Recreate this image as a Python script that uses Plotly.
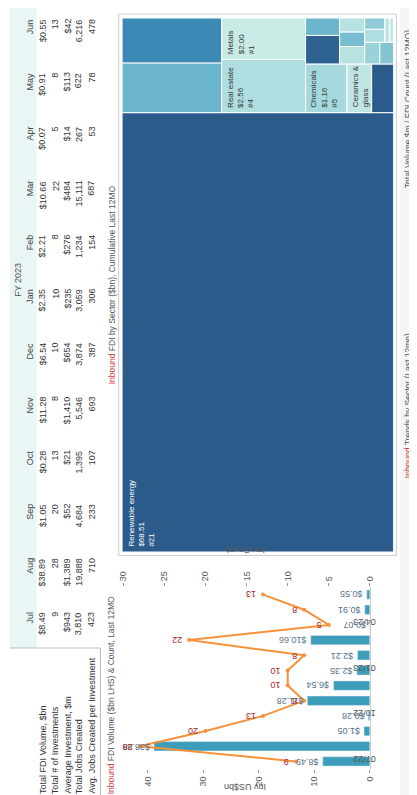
import plotly.graph_objects as go
from plotly.colors import sample_colorscale

W, H = 417, 795

# ---- table / monthly data ----
months = ["Jul", "Aug", "Sep", "Oct", "Nov", "Dec", "Jan", "Feb", "Mar", "Apr", "May", "Jun"]
periods = ["07/22", "08/22", "09/22", "10/22", "11/22", "12/22",
           "01/23", "02/23", "03/23", "04/23", "05/23", "06/23"]
period_ticks = ["07/22", "10/22", "01/23", "04/23"]
fdi_volume_bn = [8.49, 38.89, 1.05, 0.28, 11.28, 6.54, 2.35, 2.21, 10.66, 0.07, 0.91, 0.55]
fdi_count = [9, 28, 20, 13, 8, 10, 10, 8, 22, 5, 8, 13]
avg_investment_m = [943, 1389, 52, 21, 1410, 654, 235, 276, 484, 14, 113, 42]
jobs_created = [3810, 19888, 4684, 1395, 5546, 3874, 3059, 1234, 15111, 267, 622, 6216]
avg_jobs = [423, 710, 233, 107, 693, 387, 306, 154, 687, 53, 78, 478]
row_labels = ["Total FDI Volume, $bn", "Total # of Investments", "Average Investment, $m",
              "Total Jobs Created", "Avg. Jobs Created per Investment"]

# ---- sector data (cumulative last 12 months) ----
sectors = ["Renewable energy", "Communications", "Software & IT services", "Real estate",
           "Metals", "Chemicals", "Ceramics & glass", "Business services",
           "Financial services", "Transportation & warehousing", "Food & beverages",
           "Industrial equipment", "Automotive components", "Consumer products",
           "Coal, oil & gas", "Plastics", "Textiles", "Healthcare", "Electronic components"]
sector_volume_bn = [68.51, 2.85, 2.57, 2.56, 2.00, 1.16, 0.69, 0.61, 0.56, 0.34,
                    0.25, 0.21, 0.20, 0.19, 0.17, 0.15, 0.13, 0.07, 0.05]
sector_count = [21, 10, 15, 4, 1, 5, 2, 22, 20, 10, 3, 9, 3, 6, 8, 4, 7, 2, 2]
labelled = ["Renewable energy", "Real estate", "Metals", "Chemicals", "Ceramics & glass"]


def px(x):
    return x / W


def py(y):
    return 1 - y / H


FONT = "Arial, Liberation Sans, sans-serif"
RED = "#d0403c"

fig = go.Figure()

# ---------------- bar + line chart (rotated) ----------------
fig.add_trace(go.Bar(
    x=fdi_volume_bn, y=periods, orientation="h", xaxis="x", yaxis="y",
    marker_color="#3d9dba", width=0.62, hoverinfo="skip",
))
fig.add_trace(go.Scatter(
    x=fdi_count, y=periods, xaxis="x2", yaxis="y", mode="lines+markers",
    line=dict(color="#f7923a", width=2), marker=dict(size=4, color="#f7923a"),
    hoverinfo="skip",
))

ann = []
for v, p in zip(fdi_volume_bn, periods):
    ann.append(dict(x=v, y=p, xref="x", yref="y", text=f"${v:.2f}", textangle=180,
                    xanchor="right", yanchor="middle", xshift=-2, showarrow=False,
                    font=dict(size=9, color="#55738a", family=FONT)))
for c, p in zip(fdi_count, periods):
    ann.append(dict(x=c, y=p, xref="x2", yref="y", text=str(c), textangle=180,
                    xanchor="right", yanchor="middle", xshift=-5, showarrow=False,
                    font=dict(size=9, color="#a3282b", family=FONT)))

# ---------------- treemap (rotated) ----------------
TM_W, TM_H = 534, 276   # dashboard width / height of the treemap


def strip_layout(values, groups, w, h):
    rects = []
    u0, v0, u1, v1 = 0.0, 0.0, float(w), float(h)
    remaining = sum(values)
    idx = 0
    for g in groups:
        vals = values[idx:idx + g]
        s = sum(vals)
        rw, rh = u1 - u0, v1 - v0
        if rw >= rh:
            t = s / remaining * rw
            vv = v0
            for val in vals:
                hh = val / s * rh
                rects.append((u0, vv, u0 + t, vv + hh))
                vv += hh
            u0 += t
        else:
            t = s / remaining * rh
            uu = u0
            for val in vals:
                ww = val / s * rw
                rects.append((uu, v0, uu + ww, v0 + t))
                uu += ww
            v0 += t
        remaining -= s
        idx += g
    return rects


rects = strip_layout(sector_volume_bn, [1, 2, 2, 3, 2, 3, 2, 2, 2], TM_W, TM_H)
scale = [[0.0, "#c9ebe6"], [0.2, "#a5d9dd"], [0.45, "#6cb6cd"], [0.7, "#3b8ab6"], [1.0, "#2b5b8a"]]
colors = sample_colorscale(scale, [min(1, (c - 1) / 20) for c in sector_count])

for name, vol, cnt, col, (u0, v0, u1, v1) in zip(sectors, sector_volume_bn, sector_count, colors, rects):
    fig.add_trace(go.Scatter(
        x=[v0, v1, v1, v0, v0], y=[u0, u0, u1, u1, u0], xaxis="x3", yaxis="y3",
        mode="lines", fill="toself", fillcolor=col, line=dict(color="white", width=1),
        hoverinfo="skip",
    ))
    if name in labelled:
        if name == "Ceramics & glass":
            txt = "Ceramics &<br>glass"
        else:
            txt = f"{name}<br>${vol:.2f}<br>#{cnt}"
        ann.append(dict(x=v0, y=u0, xref="x3", yref="y3", text=txt, textangle=-90,
                        xanchor="left", yanchor="bottom", xshift=2, yshift=3, align="left",
                        showarrow=False,
                        font=dict(size=8, family=FONT,
                                  color="white" if cnt > 12 else "#333")))

# ---------------- table ----------------
row_x = [33, 46, 58, 70, 83]
col_end = [9 + (11 - i) * 53.9 for i in range(12)]
rows = [
    [f"${v:,.2f}" for v in fdi_volume_bn],
    [f"{v}" for v in fdi_count],
    [f"${v:,}" for v in avg_investment_m],
    [f"{v:,}" for v in jobs_created],
    [f"{v:,}" for v in avg_jobs],
]
for i, m in enumerate(months):
    ann.append(dict(x=px(20), y=py(col_end[i]), xref="paper", yref="paper", text=m,
                    textangle=-90, xanchor="center", yanchor="top", showarrow=False,
                    font=dict(size=9, color="#444", family=FONT)))
    for r in range(5):
        ann.append(dict(x=px(row_x[r]), y=py(col_end[i]), xref="paper", yref="paper",
                        text=rows[r][i], textangle=-90, xanchor="center", yanchor="top",
                        showarrow=False, font=dict(size=9, color="#333", family=FONT)))
for r, lab in enumerate(row_labels):
    ann.append(dict(x=px(row_x[r]), y=py(788), xref="paper", yref="paper", text=lab,
                    textangle=-90, xanchor="center", yanchor="bottom", showarrow=False,
                    font=dict(size=9, color="#333", family=FONT)))
ann.append(dict(x=px(8), y=py(272), xref="paper", yref="paper", text="FY 2023",
                textangle=-90, xanchor="center", yanchor="middle", showarrow=False,
                font=dict(size=9, color="#555", family=FONT)))


# ---------------- titles ----------------
def title(x, y, text, yanchor, size=8.5):
    ann.append(dict(x=px(x), y=py(y), xref="paper", yref="paper", text=text,
                    textangle=-90, xanchor="center", yanchor=yanchor, showarrow=False,
                    font=dict(size=size, color="#555", family=FONT)))


title(103, 788, f"<span style='color:{RED}'>Inbound</span> FDI Volume ($bn LHS) & Count, Last 12MO", "bottom")
title(104, 277, f"<span style='color:{RED}'>Inbound</span> FDI by Sector ($bn), Cumulative Last 12MO", "middle")
title(405, 20, "Total Volume $m / FDI Count (Last 12MO)", "top")
title(405, 398, f"<span style='color:{RED}'>Inbound</span> Trends by Sector (Last 12mo)", "middle")

ann.append(dict(x=px(239), y=py(786), xref="paper", yref="paper", text="Inv US$bn",
                textangle=180, showarrow=False, font=dict(size=9, color="#555", family=FONT)))
ann.append(dict(x=px(239), y=py(549), xref="paper", yref="paper", text="Inv Count",
                textangle=180, showarrow=False, font=dict(size=9, color="#555", family=FONT)))

shapes = [
    dict(type="rect", xref="paper", yref="paper", x0=0, x1=px(27), y0=py(640), y1=1,
         fillcolor="#eaf5f5", line_width=0, layer="below"),
    dict(type="rect", xref="paper", yref="paper", x0=px(397), x1=1, y0=0, y1=1,
         fillcolor="#f4f4f4", line_width=0, layer="below"),
    dict(type="line", xref="paper", yref="paper", x0=px(92), x1=px(92), y0=0, y1=py(640),
         line=dict(color="#bbbbbb", width=1)),
    dict(type="line", xref="paper", yref="paper", x0=0, x1=px(92), y0=py(640), y1=py(640),
         line=dict(color="#bbbbbb", width=1)),
    dict(type="rect", xref="paper", yref="paper", x0=px(110.5), x1=px(393), y0=py(547.5), y1=py(6),
         fillcolor="rgba(0,0,0,0)", line=dict(color="#cccccc", width=1)),
]

tick_font = dict(size=9, color="#555", family=FONT)
fig.update_layout(
    width=W, height=H, margin=dict(l=0, r=0, t=0, b=0),
    paper_bgcolor="white", plot_bgcolor="white", showlegend=False,
    annotations=ann, shapes=shapes, bargap=0.35,
    xaxis=dict(domain=[px(112), px(366)], range=[45, 0], tickvals=[0, 10, 20, 30, 40],
               tickangle=-90, ticks="outside", ticklen=3, tickcolor="#999",
               showgrid=False, zeroline=False, tickfont=tick_font, anchor="y"),
    xaxis2=dict(domain=[px(112), px(366)], range=[30.4, 0], overlaying="x", side="top",
                tickvals=[0, 5, 10, 15, 20, 25, 30], tickangle=-90, ticks="outside",
                ticklen=3, tickcolor="#999", showgrid=False, zeroline=False,
                tickfont=tick_font, anchor="y"),
    yaxis=dict(domain=[py(761), py(579)], type="category", categoryorder="array",
               categoryarray=periods, range=[-0.5, 11.5], side="right",
               tickvals=period_ticks, tickangle=180, ticks="outside", ticklen=3,
               tickcolor="#999", showline=True, linecolor="#cccccc", showgrid=False,
               tickfont=tick_font, anchor="x"),
    xaxis3=dict(domain=[px(114), px(390)], range=[0, TM_H], visible=False, anchor="y3"),
    yaxis3=dict(domain=[py(544), py(10)], range=[0, TM_W], visible=False, anchor="x3"),
)

fig.write_html("out.html")
